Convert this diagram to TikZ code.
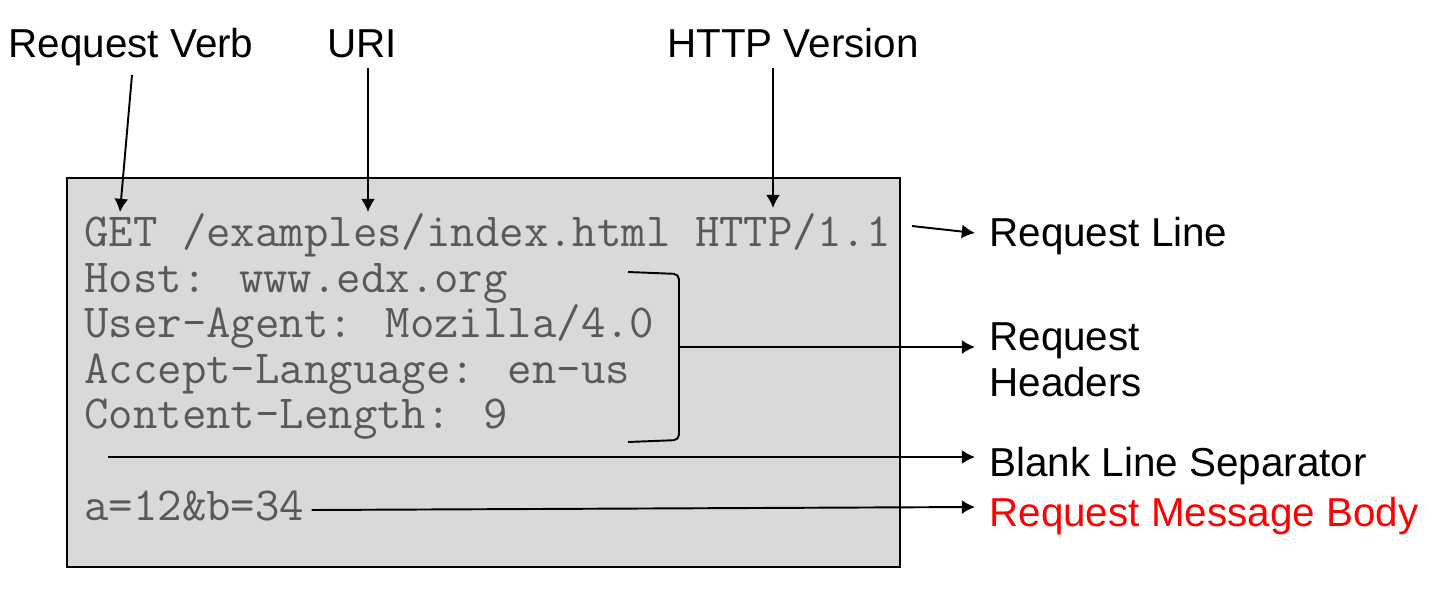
\documentclass[tikz,border=0pt]{standalone}
\usepackage{fontspec}
\setmainfont{Liberation Sans}
\usetikzlibrary{arrows.meta}
\definecolor{boxgray}{HTML}{D9D9D9}
\definecolor{codegray}{HTML}{595959}
\begin{document}
\begin{tikzpicture}[x = 0.02cm, y = -0.02cm,
        lbl/.style = {inner sep = 0, font = \fontsize{23}{26}\selectfont},
        code/.style = {inner sep = 0, anchor = base west, text = codegray,
            font = \fontsize{27}{30}\selectfont\ttfamily},
        arr/.style = {line width = 1.1pt, -{Latex[length = 7.5pt, width = 8pt]}}]
                \useasboundingbox (0, 0) rectangle (1438, 596);
                \draw [line width = 1.4pt, fill = boxgray] (67, 178) rectangle (900, 567);

                % labels on top
                \node [lbl, anchor = base] (verb) at (131, 57) {Request Verb};
                \node [lbl, anchor = base] (uri) at (362, 57) {URI};
                \node [lbl, anchor = base] (version) at (793, 57) {HTTP Version};

                % request text
                \node [code] (get) at (84, 246) {GET /examples/index.html HTTP/1.1};
                \node [code] (host) at (84, 292) {Host: www.edx.org};
                \node [code] (agent) at (84, 337) {User-Agent: Mozilla/4.0};
                \node [code] (lang) at (84, 383) {Accept-Language: en-us};
                \node [code] (length) at (84, 428) {Content-Length: 9};
                \node [code] (body) at (84, 520) {a=12\&b=34};

                % labels on the right
                \node [lbl, anchor = base west] (line) at (989, 246) {Request Line};
                \node [lbl, anchor = base west, align = left] (headers) at (989, 396) {Request\\Headers};
                \node [lbl, anchor = base west] (blank) at (989, 476) {Blank Line Separator};
                \node [lbl, anchor = base west, text = red] (msg) at (989, 526) {Request Message Body};

                \coordinate (verbtip) at (120, 212);
                \coordinate (uritip) at (368, 212);
                \coordinate (versiontip) at (773, 208);
                \draw [arr] (132, 75) -- (verbtip);
                \draw [arr] (uri.south -| uritip) ++(0, 10) -- (uritip);
                \draw [arr] (version.south -| versiontip) ++(0, 10) -- (versiontip);

                \coordinate (linestart) at (912, 226);
                \draw [arr] (linestart) -- (975, 233);

                \draw [line width = 1.1pt, rounded corners = 3] (628, 272) -- (679, 274) -- (679, 440) -- (628, 442);
                \coordinate (bracket) at (679, 347);
                \draw [arr] (bracket) -- (975, 347);

                \coordinate (blankstart) at (108, 457);
                \draw [arr] (blankstart) -- (975, 457);

                \draw [arr] ([xshift = 4pt] body.east |- 0, 510) -- (975, 507);
            \end{tikzpicture}
\end{document}
